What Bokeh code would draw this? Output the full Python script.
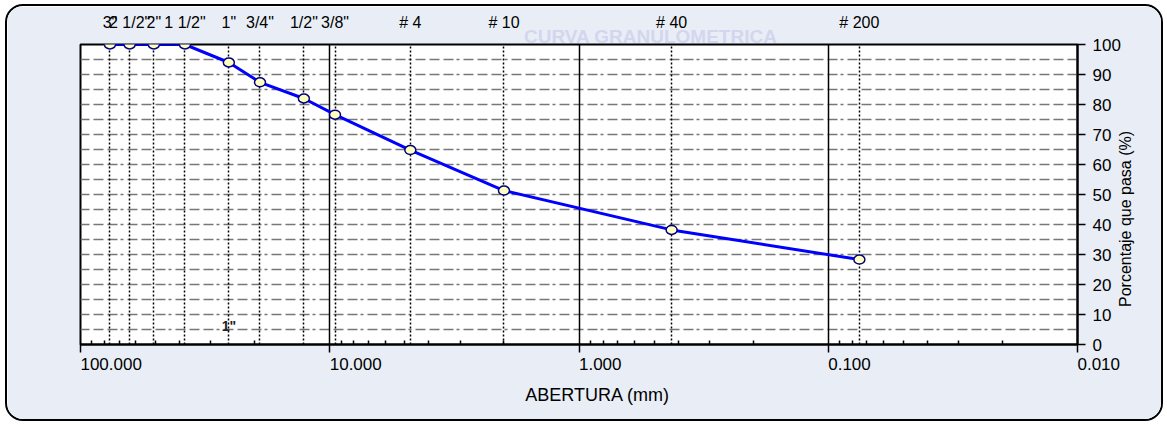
from bokeh.plotting import figure
from bokeh.models import (Range1d, LogAxis, LinearAxis, FixedTicker, Grid, Label, AllLabels)
from bokeh.embed import file_html
from bokeh.resources import INLINE
import math

# ---- data ----
sieve_labels = ['3"', '2 1/2"', '2"', '1 1/2"', '1"', '3/4"', '1/2"', '3/8"',
                '# 4', '# 10', '# 40', '# 200']
openings_mm = [76.2, 63.5, 50.8, 38.1, 25.4, 19.05, 12.7, 9.525, 4.75, 2.0, 0.425, 0.075]
percent_passing = [100, 100, 100, 100, 94.0, 87.4, 82.0, 76.6, 64.8, 51.3, 38.2, 28.3]
x_major_ticks = [100, 10, 1, 0.1, 0.01]
x_tick_labels = ["100.000", "10.000", "1.000", "0.100", "0.010"]
y_ticks = list(range(0, 101, 10))
title_text = "CURVA GRANULOMETRICA"
x_title = "ABERTURA (mm)"
y_title = "Porcentaje que pasa (%)"

FONT = "Liberation Sans"
X_START, X_END = 100, 0.01

def frac_to_x(f):
    # position along the log x frame (0 = left, 1 = right)
    return 10 ** (math.log10(X_START) + f * (math.log10(X_END) - math.log10(X_START)))

W, H = 1158, 417
p = figure(width=W, height=H, x_axis_type="log",
           x_range=Range1d(X_START, X_END), y_range=Range1d(0, 100),
           y_axis_location="right", output_backend="svg", toolbar_location=None,
           min_border_left=73, min_border_right=88, min_border_top=38,
           min_border_bottom=79)
p.styles = {"margin-left": "5px", "margin-top": "4px", "border": "2px solid black",
            "border-radius": "18px", "overflow": "hidden"}
p.border_fill_color = "#e9eef6"
p.background_fill_color = "white"
p.outline_line_color = "black"
p.outline_line_width = 2
p.xgrid.visible = False
p.ygrid.visible = False

# horizontal dashed grid every 5%
p.add_layout(Grid(dimension=1, ticker=FixedTicker(ticks=list(range(5, 100, 5))),
                  grid_line_color="#777777", grid_line_width=1.7,
                  grid_line_dash="10 4 10 4 10 4 3 3"))
# decade solid lines
p.add_layout(Grid(dimension=0, ticker=FixedTicker(ticks=[10, 1, 0.1]),
                  grid_line_color="black", grid_line_width=1.5))
# sieve dotted lines
p.add_layout(Grid(dimension=0, ticker=FixedTicker(ticks=openings_mm),
                  grid_line_color="black", grid_line_width=1.5, grid_line_dash="2 2"))

# ---- bottom axis ----
NBSP = "\u00a0"
def pad_left(s):
    # pad so the centred label reads as left-aligned at its tick
    n = sum(2 if ch.isdigit() else 1 for ch in s)
    return NBSP * n + s

xa = p.xaxis[0]
minors = [m * 10.0 ** e for e in range(-2, 2) for m in range(2, 10)]
xa.ticker = FixedTicker(ticks=x_major_ticks, minor_ticks=minors)
xa.major_label_overrides = {t: pad_left(l) for t, l in zip(x_major_ticks, x_tick_labels)}
xa.major_label_policy = AllLabels()
xa.major_label_text_font = FONT
xa.major_label_text_font_size = "17px"
xa.major_label_text_color = "black"
xa.major_label_standoff = 2
xa.major_tick_out = 8
xa.major_tick_in = 0
xa.minor_tick_in = 4
xa.minor_tick_out = 0
xa.axis_line_width = 2
xa.major_tick_line_width = 1.5
xa.minor_tick_line_width = 1.5

xt_pos = frac_to_x(0.5186)
xtitle_axis = LogAxis(ticker=FixedTicker(ticks=[xt_pos]),
                      major_label_overrides={xt_pos: x_title},
                      axis_line_color=None, major_tick_line_color=None,
                      minor_tick_line_color=None, major_tick_out=0, major_tick_in=0,
                      major_label_standoff=8, major_label_text_font=FONT,
                      major_label_text_font_size="18px", major_label_text_color="black")
p.add_layout(xtitle_axis, "below")

# ---- right axis ----
ya = p.yaxis[0]
ya.ticker = FixedTicker(ticks=y_ticks)
ya.major_label_text_font = FONT
ya.major_label_text_font_size = "17px"
ya.major_label_text_color = "black"
ya.major_label_standoff = 7
ya.major_tick_out = 8
ya.major_tick_in = 0
ya.minor_tick_line_color = None
ya.axis_line_width = 2
ya.major_tick_line_width = 1.5

# rotated title label starts at its tick and runs upward
yt_pos = 12.5
ytitle_axis = LinearAxis(ticker=FixedTicker(ticks=[yt_pos]),
                         major_label_overrides={yt_pos: y_title},
                         major_label_orientation=math.pi / 2,
                         axis_line_color=None, major_tick_line_color=None,
                         minor_tick_line_color=None, major_tick_out=0, major_tick_in=0,
                         major_label_standoff=2, major_label_text_font=FONT,
                         major_label_text_font_size="16px", major_label_text_color="black")
p.add_layout(ytitle_axis, "right")

# ---- top: faint title and sieve labels ----
t_pos = frac_to_x(0.572)
title_axis = LogAxis(ticker=FixedTicker(ticks=[t_pos]),
                     major_label_overrides={t_pos: title_text},
                     axis_line_color=None, major_tick_line_color=None,
                     minor_tick_line_color=None, major_tick_out=0, major_tick_in=0,
                     major_label_standoff=-2, major_label_text_font=FONT,
                     major_label_text_font_size="19px", major_label_text_font_style="bold",
                     major_label_text_color="#d3d6ee")
p.add_layout(title_axis, "above")

sieve_axis = LogAxis(ticker=FixedTicker(ticks=openings_mm),
                     major_label_overrides={o: l for o, l in zip(openings_mm, sieve_labels)},
                     major_label_policy=AllLabels(),
                     axis_line_color=None, major_tick_line_color=None,
                     minor_tick_line_color=None, major_tick_out=0, major_tick_in=0,
                     major_label_standoff=-8, major_label_text_font=FONT,
                     major_label_text_font_size="16px", major_label_text_color="black")
p.add_layout(sieve_axis, "above")

# stray 1" label near bottom
p.add_layout(Label(x=openings_mm[4], y=6.3, text='1"', text_align="center",
                   text_baseline="middle", text_font=FONT, text_font_size="14px",
                   text_font_style="bold", text_color="#222222"))

# ---- curve ----
p.line(openings_mm, percent_passing, line_color="#0000ff", line_width=3)
p.ellipse(x=openings_mm, y=percent_passing, width=11, height=9,
          width_units="screen", height_units="screen",
          fill_color="#ffffc0", line_color="#000080", line_width=1.5)

open("out.html", "w").write(file_html(p, INLINE))
